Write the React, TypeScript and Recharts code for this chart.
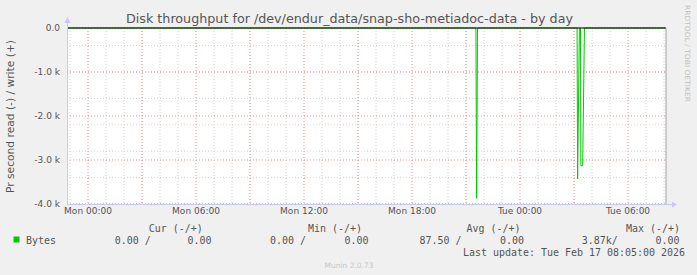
import { LineChart, Line, XAxis, YAxis, CartesianGrid, ReferenceLine } from "recharts";

// time in hours from Mon 00:00, value in bytes/s (read drawn negative)
const readTimes = [-1.1667, 21.55, 21.59, 21.64, 27.17, 27.2, 27.3, 27.36, 27.38, 27.48, 27.58, 32.08];
const readValues = [0, 0, -3870, 0, 0, -3430, 0, 0, -3130, -3130, 0, 0];

const xTicks = [0, 6, 12, 18, 24, 30];
const xTickLabels = ["Mon 00:00", "Mon 06:00", "Mon 12:00", "Mon 18:00", "Tue 00:00", "Tue 06:00"];
const yTicks = [0, -1000, -2000, -3000, -4000];

const minorHours = [-1, 0, 1, 2, 3, 4, 5, 6, 7, 8, 9, 10, 11, 12, 13, 14, 15, 16, 17, 18, 19, 20, 21, 22, 23, 24, 25, 26, 27, 28, 29, 30, 31, 32];
const majorHours = [0, 3, 6, 9, 12, 15, 18, 21, 24, 27, 30];
const minorValues = [0, -200, -400, -600, -800, -1000, -1200, -1400, -1600, -1800, -2000, -2200, -2400, -2600, -2800, -3000, -3200, -3400, -3600, -3800, -4000];
const majorValues = [0, -1000, -2000, -3000, -4000];

const X_MIN = -1.1667;
const X_MAX = 32.11;

const data = readTimes.map((t, i) => ({ t, read: readValues[i] }));

const fmtY = (v: number) => (v === 0 ? "0.0" : `${(v / 1000).toFixed(1)} k`);
const fmtX = (v: number) => xTickLabels[xTicks.indexOf(v)] ?? "";

const mono = "DejaVu Sans Mono";
const CW = 6.0; // legend char width

function LegText({ x, y, s }: { x: number; y: number; s: string }) {
  return (
    <text x={x} y={y} fontFamily={mono} fontSize={10} fill="#555" textLength={s.length * CW} lengthAdjust="spacingAndGlyphs" style={{ whiteSpace: "pre" }}>
      {s}
    </text>
  );
}

export default function App() {
  return (
    <div style={{ position: "absolute", left: 0, top: 0, width: 697, height: 275, background: "#f0f0f0" }}>
      <LineChart width={697} height={275} data={data} margin={{ top: 28, right: 31, left: 0, bottom: 51 }}>
        <CartesianGrid fill="#ffffff" stroke="#d2d2d2" strokeDasharray="1 2" verticalValues={minorHours} horizontalValues={minorValues} />
        <CartesianGrid stroke="#f09090" strokeDasharray="1 2" verticalValues={majorHours} horizontalValues={majorValues} />
        <XAxis
          dataKey="t"
          type="number"
          domain={[X_MIN, X_MAX]}
          ticks={xTicks}
          tickFormatter={fmtX}
          axisLine={false}
          tickLine={false}
          tickSize={3}
          tickMargin={1}
          height={20}
          tick={{ fill: "#555", fontSize: 9, fontFamily: "DejaVu Sans" }}
        />
        <YAxis
          type="number"
          domain={[-4000, 0]}
          ticks={yTicks}
          tickFormatter={fmtY}
          axisLine={false}
          tickLine={false}
          tickSize={5}
          tickMargin={2}
          width={67}
          tick={{ fill: "#555", fontSize: 9, fontFamily: "DejaVu Sans" }}
        />
        <Line dataKey="read" type="linear" stroke="#00cc00" strokeWidth={1} dot={false} isAnimationActive={false} />
        <ReferenceLine y={0} stroke="#000000" strokeWidth={1} />
        <ReferenceLine x={X_MAX} stroke="#a0a0a0" strokeWidth={1} />
      </LineChart>
      <svg width={697} height={275} style={{ position: "absolute", left: 0, top: 0, pointerEvents: "none" }}>
        <text x={126} y={23} fontFamily="DejaVu Sans" fontSize={12} fill="#555" textLength={447} lengthAdjust="spacingAndGlyphs">
          Disk throughput for /dev/endur_data/snap-sho-metiadoc-data - by day
        </text>
        <text transform="translate(14,116.5) rotate(-90)" textAnchor="middle" fontFamily="DejaVu Sans" fontSize={10} fill="#555" textLength={153} lengthAdjust="spacingAndGlyphs">
          Pr second read (-) / write (+)
        </text>
        <text transform="translate(685,5) rotate(90)" fontFamily="DejaVu Sans" fontSize={7} fill="#c0c0c0" textLength={97} lengthAdjust="spacingAndGlyphs">
          RRDTOOL / TOBI OETIKER
        </text>
        {/* axis arrows */}
        <line x1={67} y1={204.5} x2={673} y2={204.5} stroke="#c8c8ff" strokeWidth={1} />
        <polygon points="672,201.5 677,204.5 672,207.5" fill="#c8c8ff" />
        <line x1={67.5} y1={205} x2={67.5} y2={22} stroke="#c8c8ff" strokeWidth={1} />
        <polygon points="64.5,23 67.5,17 70.5,23" fill="#c8c8ff" />
        {/* legend */}
        <LegText x={148.7} y={232} s="Cur (-/+)" />
        <LegText x={308} y={232} s="Min (-/+)" />
        <LegText x={466.5} y={232} s="Avg (-/+)" />
        <LegText x={626} y={232} s="Max (-/+)" />
        <rect x={13.5} y={236.5} width={6} height={6} fill="#00cc00" />
        <LegText x={26} y={244} s="Bytes" />
        <LegText x={114.7} y={244} s="0.00 /" />
        <LegText x={187.5} y={244} s="0.00" />
        <LegText x={270} y={244} s="0.00 /" />
        <LegText x={344.6} y={244} s="0.00" />
        <LegText x={419.6} y={244} s="87.50 /" />
        <LegText x={500} y={244} s="0.00" />
        <LegText x={581.7} y={244} s="3.87k/" />
        <LegText x={655.4} y={244} s="0.00" />
        <LegText x={463} y={255.5} s="Last update: Tue Feb 17 08:05:00 2026" />
        <text x={349} y={267.5} textAnchor="middle" fontFamily="DejaVu Sans" fontSize={7.5} fill="#c8c8c8">
          Munin 2.0.73
        </text>
      </svg>
    </div>
  );
}
